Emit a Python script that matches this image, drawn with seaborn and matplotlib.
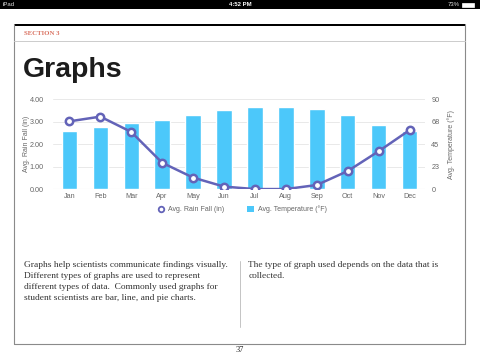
import matplotlib
matplotlib.use("Agg")
import matplotlib.pyplot as plt
import seaborn as sns
from matplotlib.patches import Rectangle
from matplotlib.lines import Line2D

months = ["Jan", "Feb", "Mar", "Apr", "May", "Jun", "Jul", "Aug", "Sep", "Oct", "Nov", "Dec"]
rain_in = [3.02, 3.23, 2.55, 1.18, 0.52, 0.12, 0.01, 0.01, 0.19, 0.81, 1.69, 2.63]
temp_f = [58, 62, 66, 69.5, 74, 79, 82, 82, 80, 74, 64, 58]

rain_ticks = [0, 1, 2, 3, 4]
rain_tick_labels = ["0.00", "1.00", "2.00", "3.00", "4.00"]
temp_ticks = [0, 22.5, 45, 67.5, 90]
temp_tick_labels = ["0", "23", "45", "68", "90"]

left_text = ["Graphs help scientists communicate findings visually.",
             "Different types of graphs are used to represent",
             "different types of data.  Commonly used graphs for",
             "student scientists are bar, line, and pie charts."]
right_text = ["The type of graph used depends on the data that is",
              "collected."]

BAR_COLOR = "#4CC8FA"
LINE_COLOR = "#6363B8"
TICK_COLOR = "#666666"
GRID_COLOR = "#E9E9E9"

W, H = 480, 360


def px(x, y):
  # pixel coords (from top-left) to figure fraction
  return x / W, 1 - y / H


def add_rect(fig, x0, y0, x1, y1, **kw):
  fx, fy = px(x0, y1)
  fig.add_artist(Rectangle((fx, fy), (x1 - x0) / W, (y1 - y0) / H,
                           transform=fig.transFigure, **kw))


def add_line(fig, x0, y0, x1, y1, **kw):
  a = px(x0, y0)
  b = px(x1, y1)
  fig.add_artist(Line2D([a[0], b[0]], [a[1], b[1]], transform=fig.transFigure, **kw))


sns.set_theme(style="white")
plt.rcParams["font.family"] = ["Liberation Sans", "DejaVu Sans"]

fig = plt.figure(figsize=(4.8, 3.6), dpi=100)
fig.patch.set_facecolor("white")

# ---- status bar ----
add_rect(fig, 0, 0, 480, 9, facecolor="black", edgecolor="none")
fig.text(*px(3, 4.7), "iPad", color="#dddddd", fontsize=4.3, va="center", ha="left")
fig.text(*px(240, 4.7), "4:52 PM", color="white", fontsize=4.3, va="center", ha="center", weight="bold")
fig.text(*px(460, 4.7), "73%", color="#dddddd", fontsize=4.3, va="center", ha="right")
add_rect(fig, 462, 2.5, 474, 7, facecolor="white", edgecolor="white", linewidth=0.5)

# ---- page frame ----
add_line(fig, 14.3, 24, 14.3, 344, color="#8a8a8a", linewidth=0.8)
add_line(fig, 464.5, 24, 464.5, 344, color="#8a8a8a", linewidth=0.8)
add_line(fig, 14.3, 344, 464.5, 344, color="#8a8a8a", linewidth=0.8)
add_rect(fig, 14, 23.5, 465, 26, facecolor="black", edgecolor="none")
add_line(fig, 14.3, 40.5, 464.5, 40.5, color="#cccccc", linewidth=0.7)

fig.text(*px(23.5, 33.5), "SECTION 3", color="#D9705F", fontsize=4.9, va="center", ha="left",
         family="Liberation Serif", weight="bold")
fig.text(*px(22.5, 77), "Graphs", color="#1c1c1c", fontsize=20.5, va="baseline", ha="left",
         weight="bold")

# ---- chart ----
ax = fig.add_axes([53 / W, 1 - 189.3 / H, 372 / W, 90 / H])
ax2 = ax.twinx()

sns.barplot(x=months, y=temp_f, ax=ax2, color=BAR_COLOR, width=0.5, saturation=1)
sns.pointplot(x=months, y=rain_in, ax=ax, color=LINE_COLOR, errorbar=None,
              markers="o", markersize=5.3, markerfacecolor="white",
              markeredgecolor=LINE_COLOR, markeredgewidth=1.8, linewidth=1.8)

ax.set_zorder(ax2.get_zorder() + 1)
ax.patch.set_visible(False)

ax.set_ylim(0, 4)
ax2.set_ylim(0, 90)
ax.set_xlim(-0.53, 11.5)
ax2.set_xlim(-0.53, 11.5)

ax.set_yticks(rain_ticks)
ax.set_yticklabels(rain_tick_labels)
ax2.set_yticks(temp_ticks)
ax2.set_yticklabels(temp_tick_labels)

for t in temp_ticks:
  ax2.axhline(t, color=GRID_COLOR, linewidth=0.7, zorder=0)
ax2.axhline(0, color="#dddddd", linewidth=0.8, zorder=0)

for a in (ax, ax2):
  for s in a.spines.values():
    s.set_visible(False)
  a.tick_params(axis="both", length=0, labelsize=5.2, labelcolor=TICK_COLOR)
  a.set_xlabel("")

ax.tick_params(axis="y", pad=6.5)
ax2.tick_params(axis="y", pad=4.5)
ax.tick_params(axis="x", pad=3)
ax.set_ylabel("Avg. Rain Fall (in)", fontsize=5.0, color=TICK_COLOR)
ax2.set_ylabel("Avg. Temperature (°F)", fontsize=5.0, color=TICK_COLOR, rotation=90)
ax.yaxis.set_label_coords(-0.063, 0.5)
ax2.yaxis.set_label_coords(1.06, 0.5)

handles = [
  Line2D([], [], marker="o", linestyle="None", markersize=4, markerfacecolor="white",
         markeredgecolor=LINE_COLOR, markeredgewidth=1.3),
  Rectangle((0, 0), 1, 1, facecolor=BAR_COLOR, edgecolor="none"),
]
fig.legend(handles, ["Avg. Rain Fall (in)", "Avg. Temperature (°F)"], ncol=2,
           loc="center", bbox_to_anchor=px(242, 209.5), frameon=False,
           fontsize=5.0, labelcolor=TICK_COLOR, handlelength=1.0, handletextpad=0.6,
           columnspacing=3.2, handleheight=0.8)

# ---- body text ----
for i, line in enumerate(left_text):
  fig.text(*px(23.5, 265 + i * 10.9), line, fontsize=6.75, color="#333333",
           family="Liberation Serif", va="center", ha="left")
for i, line in enumerate(right_text):
  fig.text(*px(248.5, 265 + i * 10.9), line, fontsize=6.75, color="#333333",
           family="Liberation Serif", va="center", ha="left")
add_line(fig, 239.5, 261, 239.5, 327, color="#c4c4c4", linewidth=0.7)

fig.text(*px(240, 350.5), "37", fontsize=6, color="#222222", family="Liberation Serif",
         va="center", ha="center")

fig.savefig("out.png", dpi=100)
